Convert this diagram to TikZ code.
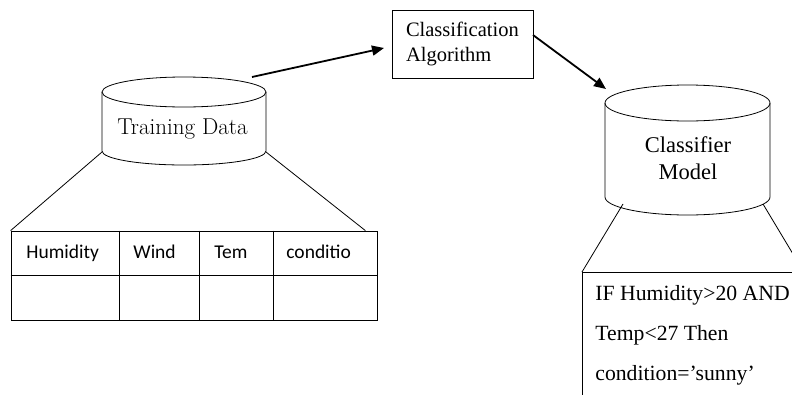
\documentclass[tikz,border=0pt]{standalone}
\usepackage{fontspec}
\newfontfamily\timesf{Liberation Serif}
\newfontfamily\calf{Carlito}
\usetikzlibrary{arrows.meta}
\begin{document}
\begin{tikzpicture}[x=1pt,y=-1pt,line width=0.8pt,
  arr/.style={line width=1.8pt,-{Triangle[length=12pt,width=10pt]}},
  hdr/.style={anchor=base west,inner sep=0pt,font=\calf\fontsize{19.5}{22}\selectfont},
  rule/.style={anchor=base west,inner sep=0pt,font=\timesf\fontsize{21.7}{25}\selectfont},
  lbl/.style={inner sep=0pt,align=center}]
\useasboundingbox (0,0) rectangle (792,394);
\clip (0,0) rectangle (792,394);

% Training Data cylinder
\draw (102,92) -- (102,151) arc[start angle=180,end angle=360,x radius=82pt,y radius=14pt] -- (266,92);
\draw (184,92) ellipse[x radius=82pt,y radius=15pt];
\node[lbl,anchor=base,font=\fontsize{23}{27}\selectfont] (td) at (182.5,134) {Training Data};
\coordinate (tdbl) at (102,152);
\coordinate (tdbr) at (266,152);
\coordinate (tdtop) at (252,77);

% table
\node[draw,minimum width=366pt,minimum height=89pt,inner sep=0pt] (tbl) at (194,275.5) {};
\draw (tbl.west |- 0,275) -- (tbl.east |- 0,275);
\draw (119,0 |- tbl.north) -- (119,0 |- tbl.south);
\draw (199,0 |- tbl.north) -- (199,0 |- tbl.south);
\draw (273,0 |- tbl.north) -- (273,0 |- tbl.south);
\node[hdr] (h1) at (26,258) {Humidity};
\node[hdr] (h2) at (133,258) {Wind};
\node[hdr] (h3) at (214,258) {Tem};
\node[hdr] (h4) at (286,258) {conditio};
\draw (tdbl) -- (tbl.north west);
\draw (tdbr) -- ([xshift=-12pt]tbl.north east);

% Classification Algorithm box
\node[draw,minimum width=141pt,minimum height=68pt,text width=113pt,inner xsep=14pt,align=left,
      font=\timesf\fontsize{20.5}{25}\selectfont] (alg) at (462.5,44) {Classification\\Algorithm};
\coordinate (a1e) at (384,48);
\coordinate (a2s) at (533,35);
\coordinate (a2e) at (606,89);
\draw[arr] (tdtop) -- (a1e);
\draw[arr] (a2s) -- (a2e);

% Classifier Model cylinder
\draw (605,103) -- (605,197) arc[start angle=180,end angle=360,x radius=82.5pt,y radius=18pt] -- (770,103);
\draw (687.5,103) ellipse[x radius=82.5pt,y radius=18pt];
\node[lbl,font=\timesf\fontsize{22.5}{27}\selectfont] (cm) at (688,158) {Classifier\\Model};
\coordinate (cmbl) at (623,204);
\coordinate (cmbr) at (763,204);

% rule box
\node[draw,minimum width=221pt,minimum height=200pt,inner sep=0pt,anchor=north west] (rb) at (582,272) {};
\draw (cmbl) -- (rb.north west);
\draw (cmbr) -- (rb.north east);
\node[rule] (r1) at (595,300) {IF Humidity>20 AND};
\node[rule] (r2) at (595,340) {Temp<27 Then};
\node[rule] (r3) at (595,380) {condition=’sunny’};
\end{tikzpicture}
\end{document}
